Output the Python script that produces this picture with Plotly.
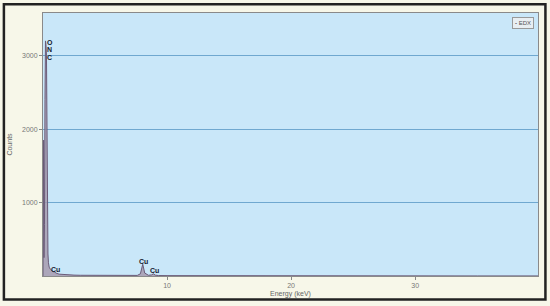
import plotly.graph_objects as go

# EDX spectrum
energy_kev = [0.0, 0.05, 0.08, 0.12, 0.16, 0.20, 0.24, 0.28, 0.31, 0.34, 0.37, 0.40,
              0.44, 0.50, 0.60, 0.70, 0.80, 0.93, 1.05, 1.3, 1.6, 2.0, 2.5, 3.0, 4.0,
              5.0, 6.0, 7.0, 7.6, 7.85, 8.04, 8.2, 8.5, 8.75, 8.9, 9.05, 9.3, 10.0,
              12.0, 15.0, 20.0, 25.0, 30.0, 35.0, 40.0]
counts = [0, 1850, 250, 700, 2400, 3200, 3150, 3000, 2200, 1200, 600, 300,
          180, 120, 90, 70, 60, 55, 40, 25, 20, 15, 12, 10, 8,
          7, 6, 6, 8, 30, 160, 40, 10, 15, 30, 12, 6, 5,
          4, 3, 2, 2, 1, 1, 1]

peak_labels = ["O", "N", "C", "Cu", "Cu", "Cu"]
peak_x = [0.15, 0.15, 0.15, 0.45, 7.55, 8.5]
peak_y = [3180, 3080, 2980, 95, 200, 80]

y_ticks = [1000, 2000, 3000]
x_ticks = [10, 20, 30]

fig = go.Figure()
fig.add_trace(go.Scatter(
    x=energy_kev, y=counts, name="EDX", mode="lines",
    line=dict(color="#6b5b78", width=1),
    fill="tozeroy", fillcolor="rgba(165,150,170,0.8)",
    showlegend=False,
))

for lab, px_, py_ in zip(peak_labels, peak_x, peak_y):
    fig.add_annotation(x=px_, y=py_, text=f"<b>{lab}</b>", showarrow=False,
                       xanchor="left", font=dict(size=7, color="#15202e"))

# legend box drawn as annotation (Plotly's legend sample is too wide)
fig.add_annotation(xref="paper", yref="paper", x=0.992, y=0.985,
                   xanchor="right", yanchor="top", showarrow=False,
                   text="<b>-</b> EDX", font=dict(size=6, color="#555"),
                   bgcolor="#e8eef2", bordercolor="#999", borderwidth=1, borderpad=2)

# outer frame of the image
fig.add_shape(type="rect", xref="paper", yref="paper",
              x0=-0.079, x1=1.015, y0=-0.089, y1=1.033,
              line=dict(color="#222", width=2.5), layer="below")

fig.update_layout(
    width=550, height=306,
    margin=dict(l=43, r=12, t=13, b=30),
    paper_bgcolor="#f7f7e9",
    plot_bgcolor="#c9e7f9",
    font=dict(family="Liberation Sans, Arial", size=7, color="#777"),
    xaxis=dict(range=[0, 39.9], tickvals=x_ticks, showgrid=False, zeroline=False,
               automargin=False, tickfont=dict(color="#777"),
               ticks="outside", ticklen=3, tickcolor="#888",
               showline=True, linecolor="#8a8a8a", mirror=True,
               title=dict(text="Energy (keV)", font=dict(size=7, color="#666"), standoff=2)),
    yaxis=dict(range=[0, 3580], tickvals=y_ticks, showgrid=True, gridcolor="#6fa8d0",
               automargin=False, tickfont=dict(color="#777"),
               gridwidth=1, zeroline=False, ticks="outside", ticklen=3, tickcolor="#888",
               showline=True, linecolor="#8a8a8a", mirror=True,
               title=dict(text="Counts", font=dict(size=7, color="#666"), standoff=8)),
)

fig.write_html("out.html", config={"displayModeBar": False},
               post_script="document.body.style.margin='0px';")
